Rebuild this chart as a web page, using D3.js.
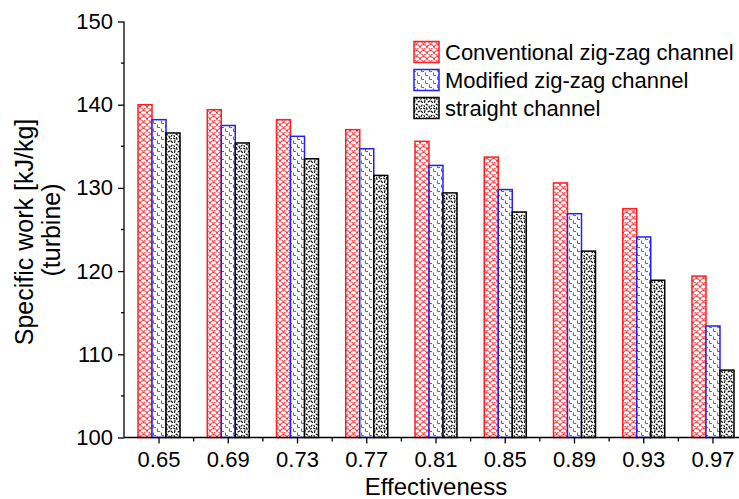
<!DOCTYPE html>
<html><head><meta charset="utf-8">
<script src="https://cdn.jsdelivr.net/npm/d3@7"></script>
<style>body{margin:0;background:#fff}svg{display:block;font-family:"Liberation Sans",Arial,sans-serif}</style>
</head><body><svg id="c" width="739" height="499"></svg>
<script>
const categories = ["0.65","0.69","0.73","0.77","0.81","0.85","0.89","0.93","0.97"];
const seriesNames = ["Conventional zig-zag channel","Modified zig-zag channel","straight channel"];
const conventional = [140.0,139.4,138.2,137.0,135.6,133.7,130.6,127.5,119.4];
const modified = [138.2,137.5,136.2,134.7,132.7,129.8,126.9,124.1,113.4];
const straight = [136.6,135.4,133.5,131.5,129.4,127.1,122.4,118.9,108.1];
const yTicks = [100,110,120,130,140,150];
const seriesValues = [conventional, modified, straight];
const colors = ["#ff2020","#2020ff","#000000"];
const patIds = ["pRed","pBlue","pBlack"];

const svg = d3.select("#c");
const defs = svg.append("defs");
{
  const p = defs.append("pattern").attr("id","pRed").attr("patternUnits","userSpaceOnUse").attr("width",7).attr("height",6);
  p.append("rect").attr("width",7).attr("height",6).attr("fill","#fff");
  p.append("path").attr("d","M0,6 A3.5,3.5 0 0 1 7,6 M-3.5,3 A3.5,3.5 0 0 1 3.5,3 M3.5,3 A3.5,3.5 0 0 1 10.5,3 M0,0 A3.5,3.5 0 0 1 7,0")
    .attr("fill","none").attr("stroke","#ff3030").attr("stroke-width",1);
}
{
  const p = defs.append("pattern").attr("id","pBlue").attr("patternUnits","userSpaceOnUse").attr("width",8).attr("height",8);
  p.append("rect").attr("width",8).attr("height",8).attr("fill","#fff");
  p.append("path").attr("d","M1.5,0.5 V3.5 H4 M5.5,4.5 V7.5 H8").attr("fill","none").attr("stroke","#5a5aff").attr("stroke-width",1);
}
{
  const p = defs.append("pattern").attr("id","pBlack").attr("patternUnits","userSpaceOnUse").attr("width",10).attr("height",10);
  p.append("rect").attr("width",10).attr("height",10).attr("fill","#fff");
  p.append("path").attr("d","M1,1 L2.5,2.5 M5,0.5 L4.5,2.5 M8,2 L9.5,1 M2,5 L1,6.5 M6,4 L7.5,5 M9,6 L9.5,8 M3.5,8 L5,9 M0.5,9 L1.5,8.5 M6.5,7.5 L7,9.5 M4,5.5 L4.5,6.5")
    .attr("fill","none").attr("stroke","#000").attr("stroke-width",1.1).attr("stroke-linecap","round");
}

const x0 = d3.scaleBand().domain(categories).range([124.4, 747.6]).padding(0);
const bw = x0.bandwidth();
const xs = d3.scaleBand().domain(seriesNames).range([(bw-42)/2, (bw+42)/2]).padding(0);
const y = d3.scaleLinear().domain([100,150]).range([437.5, 21.5]);

const g = svg.append("g");
seriesNames.forEach((s, si) => {
  g.selectAll(null).data(seriesValues[si]).join("rect")
    .attr("x", (d,i) => x0(categories[i]) + xs(s))
    .attr("y", d => y(d))
    .attr("width", xs.bandwidth())
    .attr("height", d => y(100) - y(d))
    .attr("fill", `url(#${patIds[si]})`)
    .attr("stroke", colors[si]).attr("stroke-width", 1.5);
});

const yAxis = svg.append("g").attr("transform","translate(124,0)")
  .call(d3.axisLeft(y).tickValues(yTicks).tickSize(6).tickPadding(5).tickFormat(d3.format("d")));
yAxis.attr("font-family",null).attr("font-size",null);
yAxis.select(".domain").attr("d","M0,21.5V437.5").attr("stroke","#000").attr("stroke-width",1.3);
yAxis.selectAll(".tick line").attr("stroke-width",1.3);
yAxis.selectAll("text").attr("font-size",22).attr("fill","#000");
svg.append("g").selectAll(null).data(yTicks.slice(0,-1).map(v=>v+5)).join("line")
  .attr("x1",121).attr("x2",124).attr("y1",d=>y(d)).attr("y2",d=>y(d)).attr("stroke","#000").attr("stroke-width",1.3);

const xAxis = svg.append("g").attr("transform","translate(0,437.5)")
  .call(d3.axisBottom(x0).tickSize(6).tickPadding(8));
xAxis.attr("font-family",null).attr("font-size",null);
xAxis.select(".domain").attr("d","M124,0H747").attr("stroke","#000").attr("stroke-width",1.3);
xAxis.selectAll(".tick line").attr("stroke-width",1.3);
xAxis.selectAll("text").attr("font-size",22).attr("fill","#000");
svg.append("g").selectAll(null).data(categories.slice(1)).join("line")
  .attr("x1",d=>x0(d)).attr("x2",d=>x0(d)).attr("y1",437.5).attr("y2",441.5).attr("stroke","#000").attr("stroke-width",1.3);

svg.append("text").attr("x",436).attr("y",495).attr("text-anchor","middle").attr("font-size",24).text("Effectiveness");
svg.append("text").attr("transform","translate(33,232) rotate(-90)").attr("text-anchor","middle").attr("font-size",25).text("Specific work [kJ/kg]");
svg.append("text").attr("transform","translate(60,230) rotate(-90)").attr("text-anchor","middle").attr("font-size",25).text("(turbine)");

const leg = svg.append("g");
seriesNames.forEach((s, si) => {
  const cy = 52 + si*28;
  leg.append("rect").attr("x",414).attr("y",cy-10.5).attr("width",25).attr("height",21)
    .attr("fill",`url(#${patIds[si]})`).attr("stroke",colors[si]).attr("stroke-width",1.5);
  leg.append("text").attr("x",445).attr("y",cy+8).attr("font-size",22).text(s);
});
</script></body></html>
